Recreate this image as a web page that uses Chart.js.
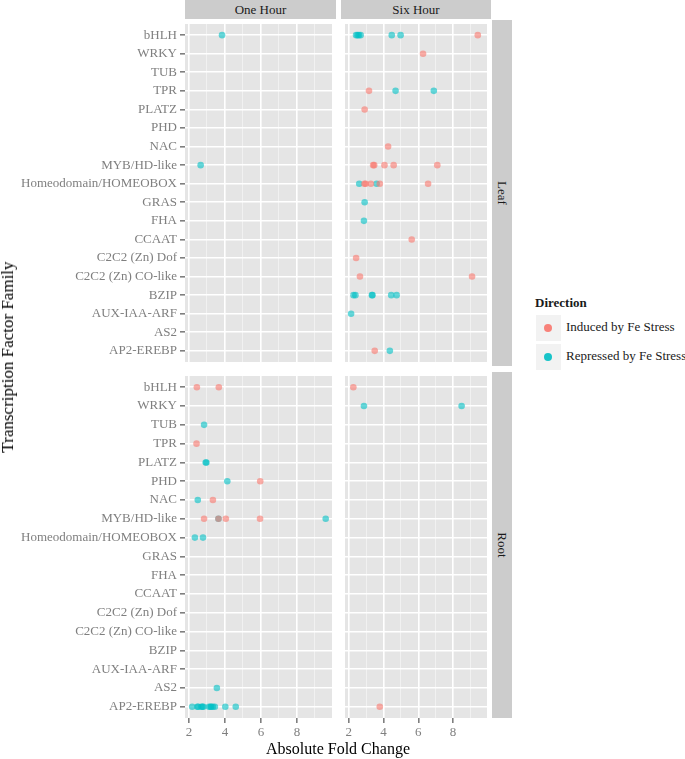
<!DOCTYPE html>
<html>
<head>
<meta charset="utf-8">
<script src="https://cdn.jsdelivr.net/npm/chart.js@4.4.1/dist/chart.umd.min.js"></script>
<style>
  body { margin: 0; background: #fff; font-family: "Liberation Serif", "DejaVu Serif", serif; }
  #wrap { position: relative; width: 685px; height: 759px; }
  canvas { position: absolute; }
  .strip { position: absolute; background: #cccccc; color: #1a1a1a; font-size: 13px;
           font-family: "Liberation Serif", serif;
           display: flex; align-items: center; justify-content: center; }
  .strip.v span { transform: rotate(90deg); white-space: nowrap; }
  .title { position: absolute; font-size: 16px; color: #000; white-space: nowrap; }
  .key { position: absolute; width: 25px; height: 26px; background: #f2f2f2; }
  .key i { position: absolute; left: 8px; top: 9px; width: 8px; height: 8px; border-radius: 50%; }
  .klab { position: absolute; font-size: 13px; color: #1a1a1a; white-space: nowrap; }
</style>
</head>
<body>
<div id="wrap">
  <canvas id="leafOne" width="336" height="346" style="left:0;top:20px"></canvas>
  <canvas id="leafSix" width="150" height="346" style="left:341px;top:20px"></canvas>
  <canvas id="rootOne" width="336" height="371" style="left:0;top:372px"></canvas>
  <canvas id="rootSix" width="150" height="371" style="left:341px;top:372px"></canvas>

  <div class="strip" style="left:185px;top:0;width:151px;height:19px">One Hour</div>
  <div class="strip" style="left:341px;top:0;width:150px;height:19px">Six Hour</div>
  <div class="strip v" style="left:492px;top:20px;width:20px;height:346px"><span>Leaf</span></div>
  <div class="strip v" style="left:492px;top:372px;width:20px;height:346px"><span>Root</span></div>

  <div class="title" style="left:338px;top:740px;transform:translateX(-50%)">Absolute Fold Change</div>
  <div class="title" style="left:8px;top:357px;font-size:17px;transform:translate(-50%,-50%) rotate(-90deg)">Transcription Factor Family</div>

  <div class="klab" style="left:535px;top:295px;font-weight:bold">Direction</div>
  <div class="key" style="left:536px;top:315px"><i style="background:rgba(248,118,109,0.9)"></i></div>
  <div class="key" style="left:536px;top:344px"><i style="background:rgba(0,191,196,0.9)"></i></div>
  <div class="klab" style="left:566px;top:319px">Induced by Fe Stress</div>
  <div class="klab" style="left:566px;top:348px">Repressed by Fe Stress</div>
</div>

<script>
// Familias de factores de transcripción (de arriba a abajo)
const FAMILIES = [
  "bHLH", "WRKY", "TUB", "TPR", "PLATZ", "PHD", "NAC", "MYB/HD-like",
  "Homeodomain/HOMEOBOX", "GRAS", "FHA", "CCAAT", "C2C2 (Zn) Dof",
  "C2C2 (Zn) CO-like", "BZIP", "AUX-IAA-ARF", "AS2", "AP2-EREBP",
];
const X_TICKS = [2, 4, 6, 8];
const SERIES_NAMES = ["Induced by Fe Stress", "Repressed by Fe Stress"];

// Leaf, One Hour
const leafOneInduced = [];
const leafOneRepressed = [["bHLH", 3.84], ["MYB/HD-like", 2.65]];

// Leaf, Six Hour
const leafSixInduced = [
  ["bHLH", 9.42], ["WRKY", 6.27], ["TPR", 3.16], ["PLATZ", 2.91], ["NAC", 4.26],
  ["MYB/HD-like", 3.40], ["MYB/HD-like", 3.46], ["MYB/HD-like", 4.05],
  ["MYB/HD-like", 4.58], ["MYB/HD-like", 7.09],
  ["Homeodomain/HOMEOBOX", 2.90], ["Homeodomain/HOMEOBOX", 2.97],
  ["Homeodomain/HOMEOBOX", 3.27], ["Homeodomain/HOMEOBOX", 3.78],
  ["Homeodomain/HOMEOBOX", 6.56], ["CCAAT", 5.62], ["C2C2 (Zn) Dof", 2.42],
  ["C2C2 (Zn) CO-like", 2.64], ["C2C2 (Zn) CO-like", 9.09], ["AP2-EREBP", 3.49],
];
const leafSixRepressed = [
  ["bHLH", 2.42], ["bHLH", 2.50], ["bHLH", 2.58], ["bHLH", 2.68], ["bHLH", 4.47],
  ["bHLH", 4.98], ["TPR", 4.69], ["TPR", 6.89],
  ["Homeodomain/HOMEOBOX", 2.60], ["Homeodomain/HOMEOBOX", 3.60],
  ["GRAS", 2.91], ["FHA", 2.87], ["BZIP", 2.27], ["BZIP", 2.38], ["BZIP", 3.33],
  ["BZIP", 3.36], ["BZIP", 4.44], ["BZIP", 4.75], ["AUX-IAA-ARF", 2.13],
  ["AP2-EREBP", 4.36],
];

// Root, One Hour
const rootOneInduced = [
  ["bHLH", 2.44], ["bHLH", 3.66], ["TPR", 2.42], ["PHD", 5.96], ["NAC", 3.33],
  ["MYB/HD-like", 2.84], ["MYB/HD-like", 3.64], ["MYB/HD-like", 4.05],
  ["MYB/HD-like", 5.95],
];
const rootOneRepressed = [
  ["TUB", 2.84], ["PLATZ", 2.93], ["PLATZ", 2.97], ["PHD", 4.13], ["NAC", 2.49],
  ["MYB/HD-like", 3.64], ["MYB/HD-like", 9.60],
  ["Homeodomain/HOMEOBOX", 2.33], ["Homeodomain/HOMEOBOX", 2.78], ["AS2", 3.55],
  ["AP2-EREBP", 2.18], ["AP2-EREBP", 2.47], ["AP2-EREBP", 2.51], ["AP2-EREBP", 2.69],
  ["AP2-EREBP", 2.75], ["AP2-EREBP", 2.80], ["AP2-EREBP", 3.11], ["AP2-EREBP", 3.20],
  ["AP2-EREBP", 3.24], ["AP2-EREBP", 3.33], ["AP2-EREBP", 3.44], ["AP2-EREBP", 4.02],
  ["AP2-EREBP", 4.60],
];

// Root, Six Hour
const rootSixInduced = [["bHLH", 2.26], ["AP2-EREBP", 3.78]];
const rootSixRepressed = [["WRKY", 2.87], ["WRKY", 8.49]];

const FONT = "'Liberation Serif', 'DejaVu Serif', serif";

// Fondo gris del panel
const panelBg = {
  id: "panelBg",
  beforeDraw(chart) {
    const { ctx, chartArea: a } = chart;
    ctx.save();
    ctx.fillStyle = "#e5e5e5";
    ctx.fillRect(a.left, a.top, a.right - a.left, a.bottom - a.top);
    ctx.restore();
  },
};

function toPoints(pairs) {
  return pairs.map(([fam, val]) => ({ x: val, y: FAMILIES.indexOf(fam) }));
}

// Sin relleno extra: el área del panel la fijan los anchos de los ejes
function sinPadding(s) {
  s.paddingTop = 0;
  s.paddingBottom = 0;
  s.paddingLeft = 0;
  s.paddingRight = 0;
}

function crearPanel(id, induced, repressed, showY, showX) {
  const isMajor = (v) => X_TICKS.includes(v);
  new Chart(document.getElementById(id), {
    type: "scatter",
    data: {
      datasets: [
        {
          label: SERIES_NAMES[0],
          data: toPoints(induced),
          backgroundColor: "rgba(248,118,109,0.6)",
          borderWidth: 0,
          pointRadius: 3.3,
        },
        {
          label: SERIES_NAMES[1],
          data: toPoints(repressed),
          backgroundColor: "rgba(0,191,196,0.6)",
          borderWidth: 0,
          pointRadius: 3.3,
        },
      ],
    },
    options: {
      responsive: false,
      animation: false,
      devicePixelRatio: 1,
      events: [],
      layout: { padding: 0 },
      plugins: { legend: { display: false }, tooltip: { enabled: false } },
      scales: {
        x: {
          type: "linear",
          min: 1.78,
          max: 9.95,
          border: { display: false },
          ticks: {
            stepSize: 1,
            includeBounds: false,
            autoSkip: false,
            maxRotation: 0,
            display: showX,
            color: "#7f7f7f",
            padding: 2,
            font: { family: FONT, size: 13 },
            callback: (v) => (isMajor(v) ? String(v) : ""),
          },
          grid: {
            color: (ctx) => (isMajor(ctx.tick.value) ? "#ffffff" : "#f4f4f4"),
            lineWidth: (ctx) => (isMajor(ctx.tick.value) ? 1.6 : 0.8),
            drawTicks: showX,
            tickLength: 5,
            tickColor: (ctx) => (isMajor(ctx.tick.value) ? "#7f7f7f" : "rgba(0,0,0,0)"),
          },
          afterFit: (s) => {
            s.height = showX ? 25 : 0;
            sinPadding(s);
          },
        },
        y: {
          type: "linear",
          reverse: true,
          min: -0.6,
          max: 17.6,
          border: { display: false },
          ticks: {
            stepSize: 1,
            includeBounds: false,
            autoSkip: false,
            display: showY,
            color: "#7f7f7f",
            padding: 3,
            font: { family: FONT, size: 13 },
            callback: (v) => FAMILIES[v] || "",
          },
          grid: {
            color: "#ffffff",
            lineWidth: 1.6,
            drawTicks: showY,
            tickLength: 5,
            tickColor: "#7f7f7f",
          },
          afterFit: (s) => {
            s.width = showY ? 185 : 0;
            sinPadding(s);
          },
        },
      },
    },
    plugins: [panelBg],
  });
}

crearPanel("leafOne", leafOneInduced, leafOneRepressed, true, false);
crearPanel("leafSix", leafSixInduced, leafSixRepressed, false, false);
crearPanel("rootOne", rootOneInduced, rootOneRepressed, true, true);
crearPanel("rootSix", rootSixInduced, rootSixRepressed, false, true);
</script>
</body>
</html>
